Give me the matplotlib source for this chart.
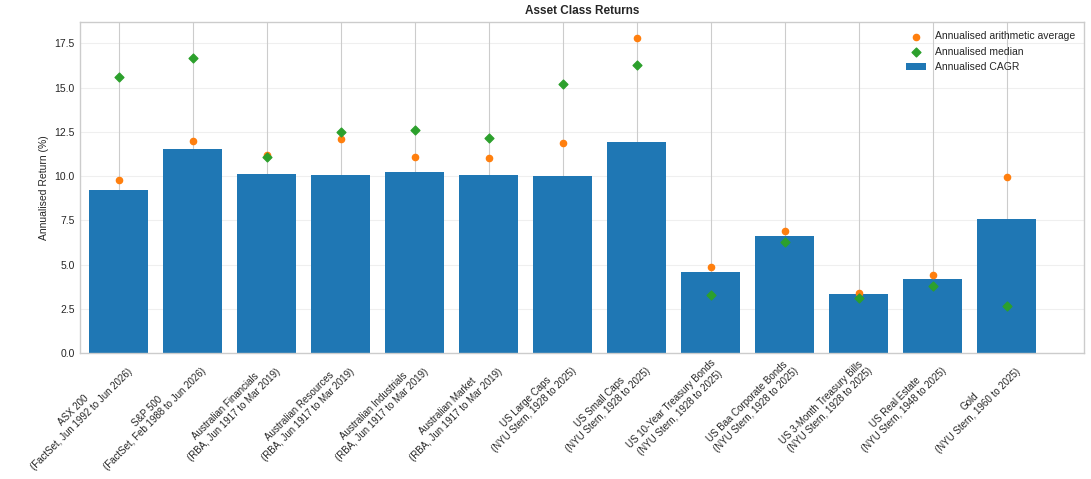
import matplotlib
matplotlib.use('Agg')
from matplotlib import pyplot as plt
import numpy as np

labels = ['ASX 200\n(FactSet, Jun 1992 to Jun 2026)',
          'S&P 500\n(FactSet, Feb 1988 to Jun 2026)',
          'Australian Financials\n(RBA, Jun 1917 to Mar 2019)',
          'Australian Resources\n(RBA, Jun 1917 to Mar 2019)',
          'Australian Industrials\n(RBA, Jun 1917 to Mar 2019)',
          'Australian Market\n(RBA, Jun 1917 to Mar 2019)',
          'US Large Caps\n(NYU Stern, 1928 to 2025)',
          'US Small Caps\n(NYU Stern, 1928 to 2025)',
          'US 10-Year Treasury Bonds\n(NYU Stern, 1928 to 2025)',
          'US Baa Corporate Bonds\n(NYU Stern, 1928 to 2025)',
          'US 3-Month Treasury Bills\n(NYU Stern, 1928 to 2025)',
          'US Real Estate\n(NYU Stern, 1948 to 2025)',
          'Gold\n(NYU Stern, 1960 to 2025)']
cagr = [9.2, 11.5, 10.1, 10.05, 10.25, 10.05, 10.0, 11.95, 4.55, 6.6, 3.35, 4.2, 7.55]
arith = [9.75, 12.0, 11.2, 12.1, 11.1, 11.0, 11.85, 17.8, 4.85, 6.9, 3.4, 4.4, 9.95]
median = [15.6, 16.65, 11.1, 12.5, 12.6, 12.15, 15.2, 16.25, 3.25, 6.3, 3.1, 3.8, 2.65]

plt.style.use('seaborn-v0_8-whitegrid')
fig, ax = plt.subplots(figsize=(10.91, 4.79), dpi=100)
x = np.arange(len(labels))
ax.bar(x, cagr, color='#1f77b4', label='Annualised CAGR', zorder=2)
ax.scatter(x, arith, color='#ff7f0e', s=20, label='Annualised arithmetic average', zorder=3)
ax.scatter(x, median, color='#2ca02c', marker='D', s=20, label='Annualised median', zorder=3)
ax.set_xticks(x)
ax.set_xticklabels(labels, rotation=45, ha='right', fontsize=7, rotation_mode='anchor', ma='center')
ax.tick_params(axis='y', labelsize=7.5)
ax.set_xlim(-0.53, 13.05)
ax.set_ylim(0, 18.7)
ax.set_ylabel('Annualised Return (%)', fontsize=7.5)
ax.set_title('Asset Class Returns', fontsize=8.5, fontweight='bold')
ax.grid(axis='y', alpha=0.3)
for s in ax.spines.values():
    s.set_visible(True)
    s.set_color('#cccccc')
ax.legend(fontsize=7.5, loc='upper right')
plt.subplots_adjust(left=0.073, right=0.994, top=0.954, bottom=0.263)
plt.savefig('out.png')
